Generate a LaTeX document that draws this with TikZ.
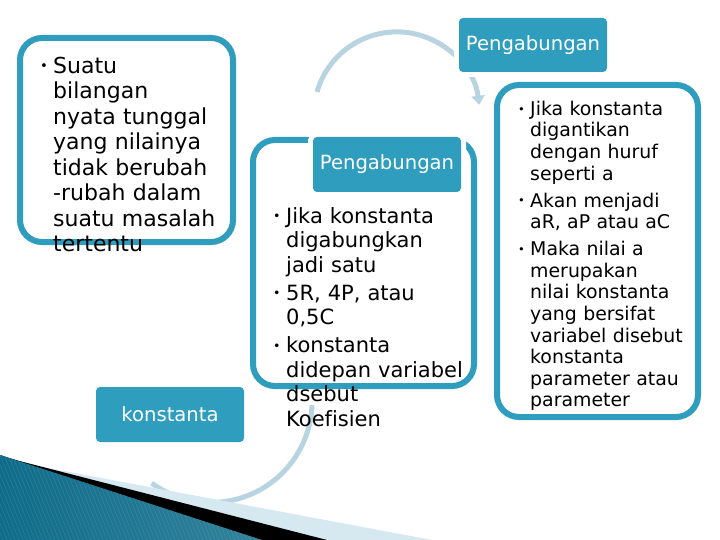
\documentclass[tikz,border=0pt]{standalone}
\usepackage{fontspec}
\setmainfont[Ligatures=NoCommon]{DejaVu Sans}
\usetikzlibrary{arrows.meta}

\definecolor{tealmain}{RGB}{47,157,189}
\definecolor{arcgrey}{RGB}{183,212,224}
\definecolor{bandlight}{RGB}{214,233,240}
\definecolor{stripedark}{RGB}{14,108,138}
\definecolor{stripemid}{RGB}{88,188,222}

\newlength{\bindent}
\newcommand{\bitem}[1]{\par\hangindent=\bindent\hangafter=1\noindent
  \makebox[\bindent][l]{\raisebox{0.12em}{\scalebox{0.6}{\textbullet}}}\strut#1\par}

\begin{document}
\begin{tikzpicture}[
    x=1pt, y=-1pt,
    panel/.style={rectangle, draw=tealmain, line width=6pt, rounded corners=22pt},
    tagbox/.style={rectangle, fill=tealmain, text=white, rounded corners=4pt,
        minimum width=148pt, minimum height=55pt, inner sep=0pt,
        font=\fontsize{19.6}{23}\selectfont,
        preaction={draw=white, line width=10pt}},
    itemtext/.style={anchor=north west, inner sep=0pt, text width=#1},
    connector/.style={draw=arcgrey, line width=5pt}
]
    \useasboundingbox (0,0) rectangle (720,540);
    \fill[white] (0,0) rectangle (720,540);

    % Lower connector
    \coordinate (arcLow) at (312,405);
    \draw[connector] (arcLow) arc[start angle=2, end angle=126, radius=101];

    % Corner decoration
    \fill[bandlight] (0,459) -- (432,540) -- (0,540) -- cycle;
    \fill[black] (0,456) -- (327,540) -- (0,540) -- cycle;
    \fill[left color=stripedark, middle color=stripemid, right color=stripedark!85]
        (0,455) -- (262,540) -- (0,540) -- cycle;
    \begin{scope}
        \clip (0,455) -- (262,540) -- (0,540) -- cycle;
        \foreach \s in {-40,-36,...,262}
            \draw[white, opacity=0.12, line width=0.5pt] (\s,455) -- ++(35,85);
    \end{scope}

    % Upper connector
    \coordinate (arcTop) at (317,92);
    \draw[connector, -{Triangle[length=9pt, width=13pt]}]
        (arcTop) arc[start angle=196, end angle=353, radius=83];

    % Panels
    \node[panel, minimum width=213, minimum height=204] (leftPanel) at (126.5,140) {};
    \node[panel, minimum width=221, minimum height=246] (midPanel) at (363.5,263) {};
    \node[panel, minimum width=201, minimum height=332] (rightPanel) at (597.5,251) {};

    % Tags
    \node[tagbox] (konstTag) at (170,414.5) {konstanta};
    \node[tagbox] (midTag) at (387,164.5) {Pengabungan};
    \node[tagbox, minimum height=54pt] (topTag) at (533,45) {Pengabungan};

    % Texts
    \node[itemtext=200pt, font=\fontsize{22}{25.5}\selectfont] (leftText) at (40,47.5) {%
        \setlength{\bindent}{13pt}%
        \bitem{Suatu\newline bilangan\newline nyata tunggal\newline yang nilainya\newline
            tidak berubah\newline -rubah dalam\newline suatu masalah\newline tertentu}};
    \node[itemtext=200pt, font=\fontsize{21}{24.5}\selectfont] (midText) at (273,198.5) {%
        \setlength{\bindent}{13pt}%
        \bitem{Jika konstanta\newline digabungkan\newline jadi satu}\vspace{3.5pt}%
        \bitem{5R, 4P, atau\newline 0,5C}\vspace{3.5pt}%
        \bitem{konstanta\newline didepan variabel\newline dsebut\newline Koefisien}};
    \node[itemtext=180pt, font=\fontsize{18.9}{21.6}\selectfont] (rightText) at (518,93.5) {%
        \setlength{\bindent}{12pt}%
        \bitem{Jika konstanta\newline digantikan\newline dengan huruf\newline seperti a}\vspace{5.4pt}%
        \bitem{Akan menjadi\newline aR, aP atau aC}\vspace{5.4pt}%
        \bitem{Maka nilai a\newline merupakan\newline nilai konstanta\newline yang bersifat\newline
            variabel disebut\newline konstanta\newline parameter atau\newline parameter}};
\end{tikzpicture}
\end{document}
